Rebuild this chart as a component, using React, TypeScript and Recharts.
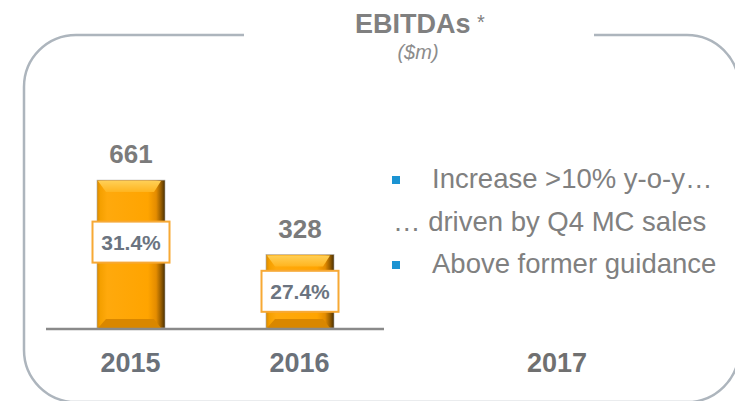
import React from 'react';
import { BarChart, Bar, XAxis, YAxis, LabelList } from 'recharts';

const years = ['2015', '2016'];
const ebitda = [661, 328];
const margins = ['31.4%', '27.4%'];
const extraYear = '2017';
const titleText = 'EBITDAs';
const titleNote = '*';
const unitText = '($m)';
const bulletLines = [
  { bullet: true, text: 'Increase >10% y-o-y…' },
  { bullet: false, text: '… driven by Q4 MC sales' },
  { bullet: true, text: 'Above former guidance' },
];

const data = years.map((year, i) => ({ year, ebitda: ebitda[i], margin: margins[i] }));

const FONT = '"Liberation Sans", Arial, sans-serif';
const W = 735;
const H = 401;

const BevelBar = (props: any) => {
  const { x, y, width: w, height: h, index } = props;
  if (w == null || h == null || h <= 0) return null;
  const b = 9;
  const id = `bb${index}`;
  return (
    <g>
      <defs>
        <linearGradient id={`${id}body`} x1="0" y1="0" x2="1" y2="0">
          <stop offset="0" stopColor="#d98a00" />
          <stop offset="0.05" stopColor="#f5a000" />
          <stop offset="0.15" stopColor="#ffa90c" />
          <stop offset="0.75" stopColor="#ffa400" />
          <stop offset="0.87" stopColor="#e48c00" />
          <stop offset="0.94" stopColor="#9a5f00" />
          <stop offset="1" stopColor="#4a2f00" />
        </linearGradient>
        <linearGradient id={`${id}top`} x1="0" y1="0" x2="0" y2="1">
          <stop offset="0" stopColor="#ffcf55" />
          <stop offset="1" stopColor="#ffb41e" />
        </linearGradient>
      </defs>
      <rect x={x} y={y} width={w} height={h} fill={`url(#${id}body)`} stroke="#a8a8a8" strokeWidth={0.6} />
      <polygon
        points={`${x + 1},${y + 1} ${x + w - 4},${y + 1} ${x + w - b - 2},${y + b + 3} ${x + b},${y + b + 3}`}
        fill={`url(#${id}top)`}
      />
      <polygon
        points={`${x + b},${y + h - b} ${x + w - b - 2},${y + h - b} ${x + w - 4},${y + h} ${x + 1},${y + h}`}
        fill="#d98700"
      />
    </g>
  );
};

const ValueLabel = (p: any) => (
  <text
    x={p.x + p.width / 2}
    y={p.y - 17}
    textAnchor="middle"
    fontSize={26}
    fontWeight="bold"
    fill="#7b7b7b"
    fontFamily={FONT}
  >
    {p.value}
  </text>
);

const MarginLabel = (p: any) => {
  const cx = p.x + p.width / 2;
  const cy = Math.min(p.y + p.height / 2, p.y + 62);
  return (
    <g>
      <rect x={cx - 38.5} y={cy - 20.5} width={77} height={41} fill="#ffffff" stroke="#f7a935" strokeWidth={2} />
      <text x={cx} y={cy + 7.5} textAnchor="middle" fontSize={21} fontWeight="bold" fill="#6b7480" fontFamily={FONT}>
        {p.value}
      </text>
    </g>
  );
};

const YearTick = (p: any) => (
  <text
    x={p.x}
    y={p.y + 44}
    textAnchor="middle"
    fontSize={27}
    fontWeight="bold"
    fill="#6b7179"
    fontFamily={FONT}
  >
    {p.payload.value}
  </text>
);

const Frame = () => {
  const l = 24, t = 35, r = 739, b = 402, rad = 52;
  const d = `M 244 ${t} L ${l + rad} ${t} A ${rad} ${rad} 0 0 0 ${l} ${t + rad} L ${l} ${b - rad} A ${rad} ${rad} 0 0 0 ${l + rad} ${b} L ${r - rad} ${b} A ${rad} ${rad} 0 0 0 ${r} ${b - rad} L ${r} ${t + rad} A ${rad} ${rad} 0 0 0 ${r - rad} ${t} L 594 ${t}`;
  return <path d={d} fill="none" stroke="#adb5bd" strokeWidth={2.5} />;
};

export default function App() {
  return (
    <div style={{ position: 'absolute', left: 0, top: 0, width: W, height: H, background: '#ffffff', overflow: 'hidden' }}>
      <svg width={W} height={H} style={{ position: 'absolute', left: 0, top: 0 }}>
        <Frame />
        <text x={355} y={33} fontSize={27} fontWeight="bold" fill="#808080" fontFamily={FONT}>
          {titleText}
        </text>
        <text x={477} y={29} fontSize={20} fill="#808080" fontFamily={FONT}>
          {titleNote}
        </text>
        <text x={418} y={59} textAnchor="middle" fontSize={20} fontStyle="italic" fill="#8c8c8c" fontFamily={FONT}>
          {unitText}
        </text>
        {bulletLines.map((ln, i) => {
          const base = [188, 231, 273][i];
          return (
            <g key={i}>
              {ln.bullet && <rect x={392} y={base - 12} width={8} height={8} fill="#1b93d2" />}
              <text x={ln.bullet ? 432 : 393} y={base} fontSize={27.5} fill="#808080" fontFamily={FONT}>
                {ln.text}
              </text>
            </g>
          );
        })}
        <text x={557} y={372} textAnchor="middle" fontSize={27} fontWeight="bold" fill="#707070" fontFamily={FONT}>
          {extraYear}
        </text>
      </svg>
      <div style={{ position: 'absolute', left: 0, top: 0 }}>
        <BarChart width={W} height={H} data={data} margin={{ top: 149, right: 351, bottom: 71, left: 46 }}>
          <YAxis hide domain={[0, 800]} width={0} />
          <XAxis
            xAxisId="grid"
            type="number"
            domain={[0, 2]}
            ticks={[0, 1, 2]}
            allowDataOverflow
            height={1}
            tick={false}
            tickSize={7}
            axisLine={{ stroke: '#8a8a8a', strokeWidth: 2.5 }}
            tickLine={{ stroke: '#8a8a8a', strokeWidth: 2.5 }}
          />
          <XAxis
            xAxisId="cat"
            dataKey="year"
            height={1}
            axisLine={false}
            tickLine={false}
            tickSize={0}
            tickMargin={0}
            interval={0}
            tick={<YearTick />}
          />
          <Bar xAxisId="cat" dataKey="ebitda" barSize={68} isAnimationActive={false} shape={<BevelBar />}>
            <LabelList dataKey="ebitda" content={<ValueLabel />} />
            <LabelList dataKey="margin" content={<MarginLabel />} />
          </Bar>
        </BarChart>
      </div>
    </div>
  );
}
